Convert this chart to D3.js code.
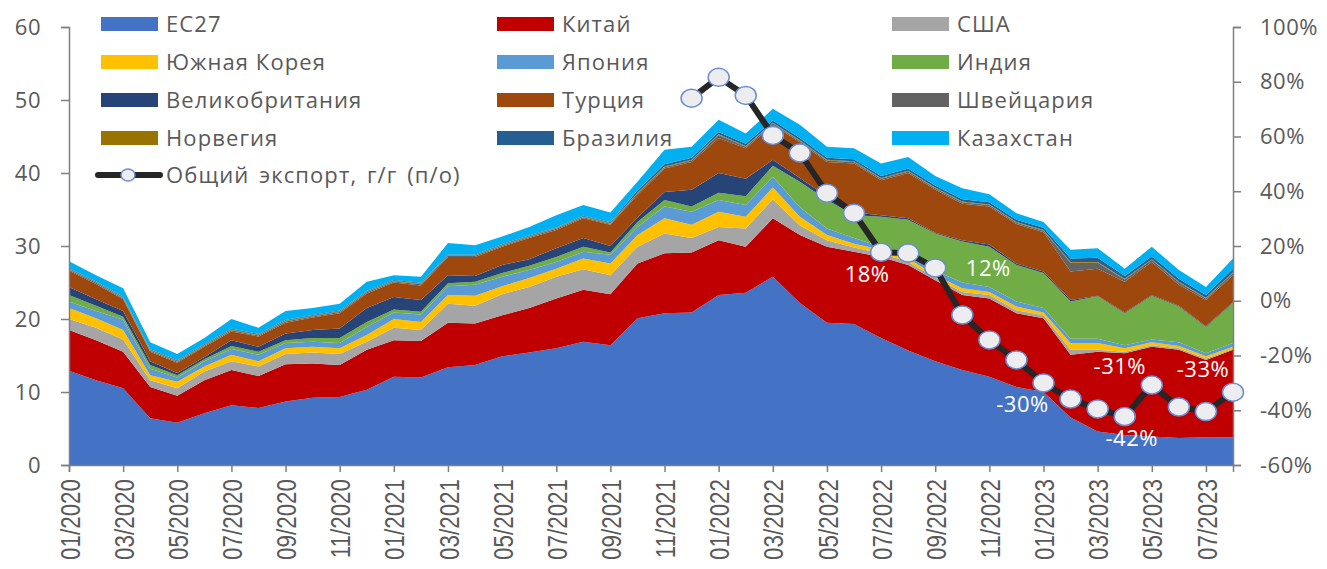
<!DOCTYPE html>
<html>
<head>
<meta charset="utf-8">
<script src="https://cdn.jsdelivr.net/npm/d3@7"></script>
<style>
  body { margin: 0; background: #fff; }
  text { font-family: "Open Sans", sans-serif; }
</style>
</head>
<body>
<svg id="chart"></svg>
<script>
const width = 1327;
const height = 569;

// Months (x categories)
const months = [
  "01/2020","02/2020","03/2020","04/2020","05/2020","06/2020","07/2020","08/2020","09/2020","10/2020","11/2020","12/2020",
  "01/2021","02/2021","03/2021","04/2021","05/2021","06/2021","07/2021","08/2021","09/2021","10/2021","11/2021","12/2021",
  "01/2022","02/2022","03/2022","04/2022","05/2022","06/2022","07/2022","08/2022","09/2022","10/2022","11/2022","12/2022",
  "01/2023","02/2023","03/2023","04/2023","05/2023","06/2023","07/2023","08/2023"
];

// Export by destination (left axis)
const eu = [12.9,11.6,10.5,6.4,5.8,7.1,8.2,7.8,8.7,9.2, 9.3,10.3,12.1,12.0,13.4,13.7,14.9,15.4,16.0,16.9, 16.4,20.1,20.8,20.9,23.3,23.6,25.8,22.2,19.5,19.3, 17.4,15.7,14.2,13.0,12.1,10.7,10.0,6.5,4.6,4.1, 3.9,3.7,3.8,3.8];
const china = [5.6,5.5,5.0,4.3,3.7,4.5,4.8,4.4,5.1,4.7, 4.4,5.5,5.0,5.0,6.1,5.7,5.6,6.1,6.8,7.1, 7.0,7.5,8.2,8.2,7.5,6.3,8.0,9.3,10.4,9.9, 11.1,11.7,11.1,10.3,10.7,10.1,10.1,8.6,10.9,11.2, 12.3,12.1,10.6,12.0];
const usa = [1.5,1.7,1.7,0.9,1.0,1.2,1.2,1.3,1.4,1.5, 1.5,1.1,1.7,1.5,2.6,2.4,2.9,2.9,3.0,2.8, 2.6,2.3,2.7,2.0,1.8,2.5,2.6,1.3,0.9,0.6, 0.5,0.4,0.4,0.4,0.5,0.4,0.4,0.7,0.3,0.2, 0.2,0.2,0.2,0.1];
const korea = [1.5,1.3,1.3,0.7,0.9,0.7,0.9,0.7,0.8,0.8, 0.8,0.9,1.2,1.1,1.2,1.4,1.1,1.2,1.1,1.5, 1.6,1.6,2.1,1.8,2.1,1.6,1.6,1.2,0.7,0.5, 0.5,0.5,0.3,0.5,0.4,0.5,0.4,0.9,0.9,0.5, 0.4,0.3,0.3,0.3];
const japan = [0.9,1.0,1.4,0.9,0.6,0.7,0.8,0.9,0.7,0.7, 0.7,1.1,0.9,1.0,1.2,1.5,1.3,1.1,0.9,0.9, 1.2,1.1,1.6,1.8,1.6,1.6,1.5,1.3,0.9,0.8, 0.4,0.6,0.6,0.8,0.7,0.7,0.6,0.6,0.6,0.4, 0.4,0.5,0.4,0.5];
const india = [0.9,0.7,0.4,0.5,0.3,0.3,0.4,0.4,0.4,0.5, 0.7,0.7,0.4,0.4,0.4,0.4,0.5,0.6,0.7,0.7, 0.3,0.7,0.9,0.7,1.0,1.2,1.5,3.5,3.9,3.1, 4.1,4.7,5.1,5.6,5.5,5.0,4.8,5.1,5.8,4.4, 6.0,4.9,3.6,5.5];
const uk = [1.1,0.9,0.8,0.5,0.3,0.3,0.8,0.7,0.9,1.1, 1.3,1.9,1.7,1.6,1.1,0.8,1.1,0.9,1.2,1.2, 0.9,0.6,1.1,2.3,2.7,2.4,0.8,0.5,0.5,0.4, 0.2,0.2,0.1,0.2,0.3,0.2,0.2,0.2,0.1,0.1, 0.1,0.1,0.1,0.1];
const turkey = [2.2,2.1,1.6,1.3,1.4,1.4,1.2,1.4,1.5,1.7, 2.1,2.0,2.0,2.0,2.5,2.6,2.5,2.9,2.5,2.7, 2.9,3.1,3.2,3.8,4.8,4.2,4.8,4.9,4.7,6.7, 4.8,6.2,5.9,5.0,5.2,5.4,5.4,3.9,3.7,4.2, 4.5,2.9,3.6,3.7];
const swiss = [0.15,0.15,0.15,0.15,0.15,0.15,0.15,0.15,0.15,0.15, 0.15,0.15,0.15,0.15,0.15,0.15,0.15,0.15,0.15,0.15, 0.15,0.2,0.2,0.2,0.4,0.2,0.2,0.2,0.2,0.2, 0.2,0.2,0.2,0.2,0.2,0.2,0.2,1.2,0.8,0.3, 0.3,0.3,0.2,0.3];
const norway = [0.1,0.1,0.1,0.1,0.1,0.1,0.1,0.1,0.1,0.1, 0.1,0.1,0.1,0.1,0.1,0.1,0.1,0.1,0.1,0.1, 0.1,0.1,0.1,0.1,0.1,0.1,0.1,0.1,0.1,0.1, 0.1,0.1,0.1,0.1,0.1,0.1,0.1,0.1,0.1,0.1, 0.1,0.1,0.1,0.1];
const brazil = [0.1,0.1,0.1,0.1,0.1,0.1,0.1,0.1,0.1,0.1, 0.1,0.1,0.1,0.1,0.1,0.1,0.1,0.1,0.1,0.1, 0.1,0.3,0.3,0.3,0.3,0.3,0.3,0.3,0.3,0.3, 0.3,0.3,0.3,0.3,0.3,0.3,0.3,0.5,0.6,0.4, 0.4,0.4,0.4,0.5];
const kazakhstan = [0.95,0.85,1.15,0.95,0.85,0.85,1.35,0.85,1.25,0.95, 0.95,1.25,0.65,0.85,1.55,1.25,1.05,1.15,1.65,1.45, 1.35,1.2,2.0,1.5,1.7,1.4,1.6,1.8,1.5,1.5, 1.7,1.6,1.3,1.5,1.1,0.9,0.8,1.2,1.3,1.0, 1.3,1.2,1.1,1.4];

// Total export y/y, % (right axis), from 12/2021
const yoyStart = "12/2021";
const exportYoY = [74, 81.6, 75, 60.4, 54, 39.3, 32, 17.7, 17.4, 12, -5.2, -14.3, -21.6, -30, -35.9, -39.5, -42.3, -30.8, -38.8, -40.5, -33.4];

const leftTicks = [0, 10, 20, 30, 40, 50, 60];
const rightTicks = [-60, -40, -20, 0, 20, 40, 60, 80, 100];

const series = [
  { key: "ЕС27", values: eu, color: "#4472C4" },
  { key: "Китай", values: china, color: "#C00000" },
  { key: "США", values: usa, color: "#A5A5A5" },
  { key: "Южная Корея", values: korea, color: "#FFC000" },
  { key: "Япония", values: japan, color: "#5B9BD5" },
  { key: "Индия", values: india, color: "#70AD47" },
  { key: "Великобритания", values: uk, color: "#264478" },
  { key: "Турция", values: turkey, color: "#9E480E" },
  { key: "Швейцария", values: swiss, color: "#636363" },
  { key: "Норвегия", values: norway, color: "#997300" },
  { key: "Бразилия", values: brazil, color: "#255E91" },
  { key: "Казахстан", values: kazakhstan, color: "#00B0F0" }
];

// Label placement for selected points (offset from marker)
const labelOffsets = {
  "07/2022": [-14, 22],
  "09/2022": [53, 0],
  "01/2023": [-21, 21],
  "04/2023": [7, 22],
  "05/2023": [-32, -19],
  "08/2023": [-30, -23]
};

const table = months.map((m, i) => {
  const row = { month: m };
  series.forEach((s) => (row[s.key] = s.values[i]));
  return row;
});

const yoyMonths = months.slice(months.indexOf(yoyStart));
const yoyData = yoyMonths.map((m, i) => ({ month: m, value: exportYoY[i] }));

const x = d3.scalePoint().domain(months).range([69, 1233]);
const y = d3.scaleLinear().domain([0, 60]).range([465, 27]);
const y2 = d3.scaleLinear().domain([-60, 100]).range([465, 27]);

const svg = d3.select("#chart").attr("width", width).attr("height", height);

// Stacked areas
const stack = d3.stack().keys(series.map((s) => s.key));
const layers = stack(table);

const area = d3
  .area()
  .x((d) => x(d.data.month))
  .y0((d) => y(d[0]))
  .y1((d) => y(d[1]));

svg
  .append("g")
  .selectAll("path")
  .data(layers)
  .enter()
  .append("path")
  .attr("d", area)
  .attr("fill", (d, i) => series[i].color);

// Axes
const axisColor = "#7f7f7f";
const labelColor = "#595959";

const leftAxis = svg
  .append("g")
  .attr("transform", "translate(69,0)")
  .call(d3.axisLeft(y).tickValues(leftTicks).tickSize(8).tickPadding(20));

const rightAxis = svg
  .append("g")
  .attr("transform", "translate(1233,0)")
  .call(
    d3
      .axisRight(y2)
      .tickValues(rightTicks)
      .tickSize(8)
      .tickPadding(19)
      .tickFormat((d) => d + "%")
  );

const xAxis = svg
  .append("g")
  .attr("transform", "translate(0,465)")
  .call(
    d3
      .axisBottom(x)
      .tickValues(months.filter((m, i) => i % 2 === 0))
      .tickSize(7)
  );

[leftAxis, rightAxis, xAxis].forEach((g) => {
  g.select(".domain").attr("stroke", axisColor).attr("stroke-width", 1.5);
  g.selectAll(".tick line").attr("stroke", axisColor).attr("stroke-width", 1.5);
});

[leftAxis, rightAxis].forEach((g) => {
  g.selectAll("text")
    .attr("fill", labelColor)
    .style("font-size", "22px")
    .style("letter-spacing", "0.5px");
});

xAxis
  .selectAll("text")
  .attr("fill", labelColor)
  .style("font-family", "'Liberation Sans', Arial, sans-serif")
  .style("font-size", "28px")
  .attr("text-anchor", "end")
  .attr("y", 0)
  .attr("dy", "0.36em")
  .attr("transform", "translate(0,14) rotate(-90) scale(0.8,1)");

// Total export y/y line
const line = d3
  .line()
  .x((d) => x(d.month))
  .y((d) => y2(d.value));

svg
  .append("path")
  .datum(yoyData)
  .attr("d", line)
  .attr("fill", "none")
  .attr("stroke", "#262626")
  .attr("stroke-width", 6);

svg
  .append("g")
  .selectAll("ellipse")
  .data(yoyData)
  .enter()
  .append("ellipse")
  .attr("cx", (d) => x(d.month))
  .attr("cy", (d) => y2(d.value))
  .attr("rx", 10.5)
  .attr("ry", 9)
  .attr("fill", "#EDEDF0")
  .attr("stroke", "#6A8DD0")
  .attr("stroke-width", 1.5);

svg
  .append("g")
  .selectAll("text")
  .data(yoyData.filter((d) => labelOffsets[d.month]))
  .enter()
  .append("text")
  .attr("x", (d) => x(d.month) + labelOffsets[d.month][0])
  .attr("y", (d) => y2(d.value) + labelOffsets[d.month][1])
  .attr("dy", "0.36em")
  .attr("text-anchor", "middle")
  .attr("fill", "#ffffff")
  .style("font-size", "22px")
  .style("font-weight", 500)
  .style("letter-spacing", "0.5px")
  .text((d) => Math.round(d.value) + "%");

// Legend
const legendCols = [101, 497, 892];
const legendRows = [24, 62, 100, 138];

const legend = svg
  .append("g")
  .selectAll("g")
  .data(series)
  .enter()
  .append("g")
  .attr(
    "transform",
    (d, i) => `translate(${legendCols[i % 3]}, ${legendRows[Math.floor(i / 3)]})`
  );

legend
  .append("rect")
  .attr("x", 0)
  .attr("y", -7)
  .attr("width", 57)
  .attr("height", 14)
  .attr("fill", (d) => d.color);

legend
  .append("text")
  .attr("x", 65)
  .attr("dy", "0.35em")
  .attr("fill", labelColor)
  .style("font-size", "22px")
  .style("letter-spacing", "1.1px")
  .text((d) => d.key);

const lineLegend = svg.append("g").attr("transform", "translate(98,175)");
lineLegend
  .append("line")
  .attr("x1", 0)
  .attr("x2", 62)
  .attr("stroke", "#262626")
  .attr("stroke-width", 6)
  .attr("stroke-linecap", "round");
lineLegend
  .append("ellipse")
  .attr("cx", 30)
  .attr("rx", 7)
  .attr("ry", 6)
  .attr("fill", "#EDEDF0")
  .attr("stroke", "#6A8DD0")
  .attr("stroke-width", 1.5);
lineLegend
  .append("text")
  .attr("x", 68)
  .attr("dy", "0.35em")
  .attr("fill", labelColor)
  .style("font-size", "22px")
  .style("letter-spacing", "1.1px")
  .style("word-spacing", "3px")
  .text("Общий экспорт, г/г (п/о)");
</script>
</body>
</html>
